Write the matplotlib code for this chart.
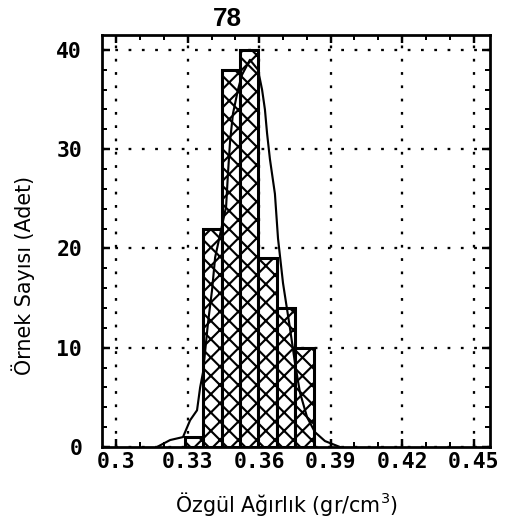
import matplotlib
matplotlib.use("Agg")
import matplotlib.pyplot as plt
import numpy as np
from matplotlib.ticker import MultipleLocator

# ---- data ----
bin_edges = [0.3287, 0.3364, 0.3442, 0.3519, 0.3597, 0.3675, 0.3752, 0.3830]
counts = [1, 22, 38, 40, 19, 14, 10]

curve_x = [0.3171, 0.3226, 0.3280, 0.3310, 0.3339, 0.3352, 0.3364, 0.3385,
           0.3402, 0.3415, 0.3461, 0.3469, 0.3478, 0.3490, 0.3511, 0.3528,
           0.3561, 0.3595, 0.3612, 0.3624, 0.3633, 0.3645, 0.3666, 0.3679,
           0.3700, 0.3729, 0.3750, 0.3771, 0.3801, 0.3834, 0.3876, 0.3939]
curve_y = [0.0, 0.7, 1.0, 2.7, 3.7, 6.0, 7.5, 12.5,
           15.8, 19.1, 24.2, 27.6, 30.9, 33.6, 36.0, 37.5,
           39.0, 38.0, 36.0, 34.0, 31.6, 29.0, 25.5, 21.0,
           16.5, 12.0, 8.5, 5.5, 3.0, 1.5, 0.6, 0.0]

x_ticks = [0.30, 0.33, 0.36, 0.39, 0.42, 0.45]
x_tick_labels = ["0.3", "0.33", "0.36", "0.39", "0.42", "0.45"]
y_ticks = [0, 10, 20, 30, 40]
y_tick_labels = ["0", "10", "20", "30", "40"]

title = "78"
x_label = "Özgül Ağırlık (gr/cm$^3$)"
y_label = "Örnek Sayısı (Adet)"

# ---- figure ----
DPI = 110
W, H = 516, 517
plt.rcParams["hatch.linewidth"] = 1.4
plt.rcParams["hatch.color"] = "black"
fig = plt.figure(figsize=(W / DPI, H / DPI), dpi=DPI)
fig.patch.set_facecolor("white")

ax_l, ax_r, ax_t, ax_b = 102, 490, 35, 447
ax = fig.add_axes([ax_l / W, 1 - ax_b / H, (ax_r - ax_l) / W, (ax_b - ax_t) / H])

ax.set_xlim(0.2940, 0.4569)
ax.set_ylim(0, 41.5)

ax.grid(True, color="black", linestyle=(0, (1.2, 4.6)), linewidth=1.5, zorder=0)
ax.set_axisbelow(True)

widths = np.diff(bin_edges)
ax.bar(bin_edges[:-1], counts, width=widths, align="edge",
       facecolor="white", edgecolor="black", linewidth=2.0, hatch="xx", zorder=2)

ax.plot(curve_x, curve_y, color="black", linewidth=1.4, zorder=3)

for s in ax.spines.values():
    s.set_linewidth(1.8)
    s.set_zorder(4)

ax.set_xticks(x_ticks)
ax.set_xticklabels(x_tick_labels)
ax.set_yticks(y_ticks)
ax.set_yticklabels(y_tick_labels)
ax.xaxis.set_minor_locator(MultipleLocator(0.01))
ax.yaxis.set_minor_locator(MultipleLocator(2))

ax.tick_params(which="major", direction="in", length=5, width=1.6,
               top=True, right=True, pad=3)
ax.tick_params(which="minor", direction="in", length=3, width=1.3,
               top=True, right=True)
ax.tick_params(axis="y", which="major", pad=13)
for lab in ax.get_xticklabels() + ax.get_yticklabels():
    lab.set_fontfamily("DejaVu Sans Mono")
    lab.set_fontweight("bold")
    lab.set_fontsize(14)

ax.set_xlabel(x_label, fontsize=13.5, family="DejaVu Sans")
ax.set_ylabel(y_label, fontsize=13.5, family="DejaVu Sans")
ax.xaxis.set_label_coords((287 - ax_l) / (ax_r - ax_l), (ax_b - 490) / (ax_b - ax_t))
ax.yaxis.set_label_coords((35 - ax_l) / (ax_r - ax_l), (ax_b - 275) / (ax_b - ax_t))

ax.set_title(title, x=(227 - ax_l) / (ax_r - ax_l), pad=6,
             fontsize=17, fontweight="bold", family="Liberation Sans")

fig.savefig("out.png", dpi=DPI, facecolor="white")
